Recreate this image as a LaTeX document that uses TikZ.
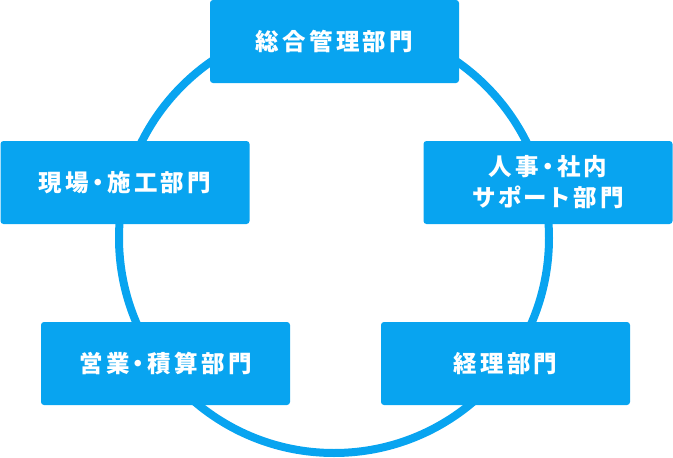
\documentclass[tikz,border=0pt]{standalone}
\usepackage{fontspec}
\usepackage{xcolor}
\usepackage{tikz}
\usetikzlibrary{positioning}

\newfontfamily\jpfont{Noto Sans CJK JP}[LetterSpace=14, RawFeature=+palt]
\definecolor{deptblue}{HTML}{08A4F0}

\begin{document}
\begin{tikzpicture}[
    x=1pt, y=-1pt,
    dept/.style = {
        rectangle, rounded corners=3pt, fill=deptblue, text=white,
        minimum width=249pt, minimum height=83pt, inner sep=0pt,
        align=center, font=\jpfont\bfseries\fontsize{23.5}{31}\selectfont
    },
    ring/.style = {
        draw=deptblue, line width=8pt
    }
]
\useasboundingbox (0,0) rectangle (673,458);

% ── cycle ──
\coordinate (hub) at (334,238);
\draw[ring] (hub) circle (215);

% ── departments ──
\node[dept] (soumu) at (334.5, 41.5)  {総合管理部門};
\node[dept] (genba) at (125, 182.5)   {現場・施工部門};
\node[dept] (jinji) at (548, 182.5)   {人事・社内\\サポート部門};
\node[dept] (eigyo) at (165.5, 363.5) {営業・積算部門};
\node[dept] (keiri) at (505.5, 363.5) {経理部門};

\end{tikzpicture}
\end{document}
